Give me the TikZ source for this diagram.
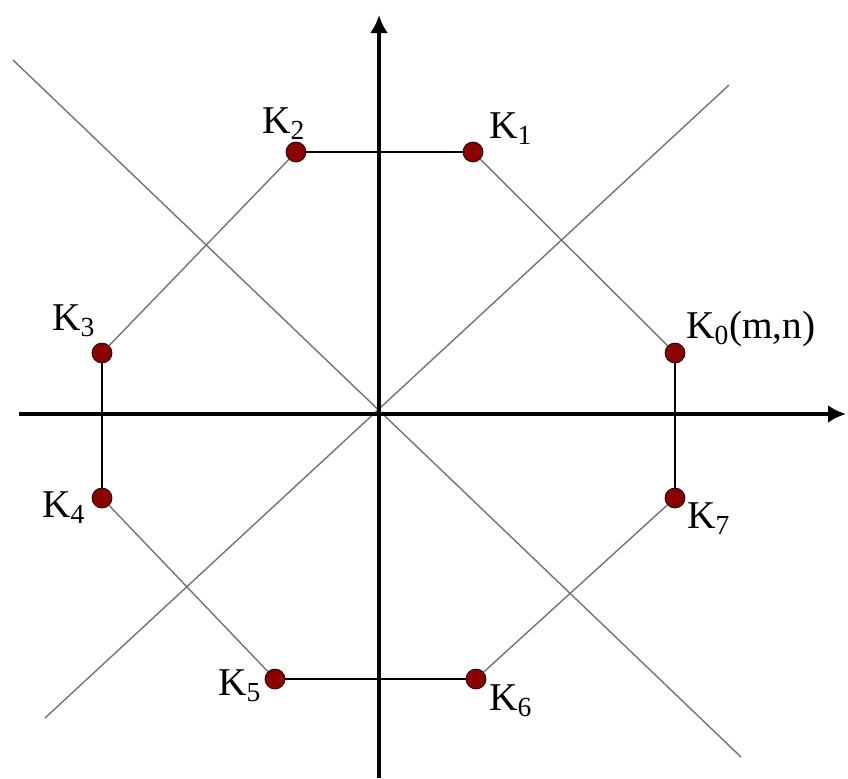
\documentclass[tikz,border=0pt]{standalone}
\usepackage{fontspec}
\setmainfont{Liberation Serif}
\usetikzlibrary{positioning}
\usetikzlibrary{arrows.meta}

\begin{document}
\begin{tikzpicture}[
    x=0.25mm, y=-0.25mm, % pixel units, y pointing down
    >={Latex[length=4.5mm,width=4.5mm]}, % arrow head style
    % Styling for the points and lines
    kPoint/.style={
        circle,
        draw=black,
        line width=0.5pt,
        fill=red!55!black,
        minimum size=5mm,
        inner sep=0pt
    },
    kLabel/.style={font=\fontsize{28}{32}\selectfont, inner sep=0pt, anchor=base west},
    axis/.style={line width=1mm, ->},
    side/.style={line width=0.7mm},
    guide/.style={line width=0.35mm, black!55}
]

    \useasboundingbox (0,0) rectangle (848,778);

    % Axes and diagonals
    \coordinate (xL) at (19,414);
    \coordinate (xR) at (846,414);
    \coordinate (yB) at (379,778);
    \coordinate (yT) at (379,15);
    \coordinate (dA) at (13,60);
    \coordinate (dB) at (741,757);
    \coordinate (dC) at (45,718);
    \coordinate (dD) at (729,85);

    \draw[guide] (dA) -- (dB);
    \draw[guide] (dC) -- (dD);
    \draw[axis] (xL) -- (xR);
    \draw[axis] (yB) -- (yT);

    % Define Nodes
    \node[kPoint] (K0) at (675,353) {};
    \node[kPoint] (K1) at (473,152) {};
    \node[kPoint] (K2) at (296,152) {};
    \node[kPoint] (K3) at (102,353) {};
    \node[kPoint] (K4) at (102,498) {};
    \node[kPoint] (K5) at (275,679) {};
    \node[kPoint] (K6) at (476,679) {};
    \node[kPoint] (K7) at (675,498) {};

    \node[kLabel] (L0) at (686,338) {K\textsubscript{0}(m,n)};
    \node[kLabel] (L1) at (489,138) {K\textsubscript{1}};
    \node[kLabel] (L2) at (262,133) {K\textsubscript{2}};
    \node[kLabel] (L3) at (52,330) {K\textsubscript{3}};
    \node[kLabel] (L4) at (42,517) {K\textsubscript{4}};
    \node[kLabel] (L5) at (218,695) {K\textsubscript{5}};
    \node[kLabel] (L6) at (489,710) {K\textsubscript{6}};
    \node[kLabel] (L7) at (687,528) {K\textsubscript{7}};

    % Draw Edges
    \draw[side] (K2) -- (K1);
    \draw[side] (K3) -- (K4);
    \draw[side] (K5) -- (K6);
    \draw[side] (K0) -- (K7);
    \draw[guide] (K1) -- (K0);
    \draw[guide] (K2) -- (K3);
    \draw[guide] (K4) -- (K5);
    \draw[guide] (K6) -- (K7);

\end{tikzpicture}
\end{document}
